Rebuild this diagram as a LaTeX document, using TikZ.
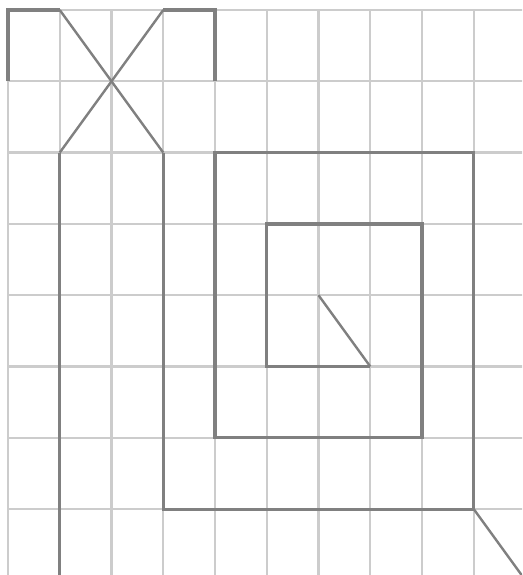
\documentclass[tikz,border=0pt]{standalone}
\begin{document}
\begin{tikzpicture}[x=1pt,y=-1pt,
  gridline/.style={draw=black!20,line width=2.3pt},
  figline/.style={draw=black!50,line width=3.2pt,line join=miter},
  diagline/.style={draw=black!50,line width=2.4pt}]
\useasboundingbox (0,0) rectangle (522,575);
\clip (0,0) rectangle (522,575);
\fill[white] (0,0) rectangle (522,575);
\begin{scope}[shift={(8,10)},x=51.75pt,y=-71.3pt]
  % grid
  \foreach \i in {0,...,10} \draw[gridline] (\i,0) -- (\i,8.2);
  \foreach \j in {0,...,8} \draw[gridline] (0,\j) -- (10.2,\j);
  % left pi shape
  \draw[figline] (0,1) -- (0,0) -- (1,0);
  \draw[diagline] (1,0) -- (3,2);
  \draw[figline] (4,1) -- (4,0) -- (3,0);
  \draw[diagline] (3,0) -- (1,2);
  \draw[figline] (1,2) -- (1,8.2);
  % spiral
  \draw[figline] (3,2) -- (3,7) -- (9,7) -- (9,2) -- (4,2) -- (4,6) -- (8,6) -- (8,3) -- (5,3) -- (5,5) -- (7,5);
  \draw[diagline] (7,5) -- (6,4);
  \draw[diagline] (9,7) -- (10.2,8.2);
\end{scope}
\end{tikzpicture}
\end{document}
